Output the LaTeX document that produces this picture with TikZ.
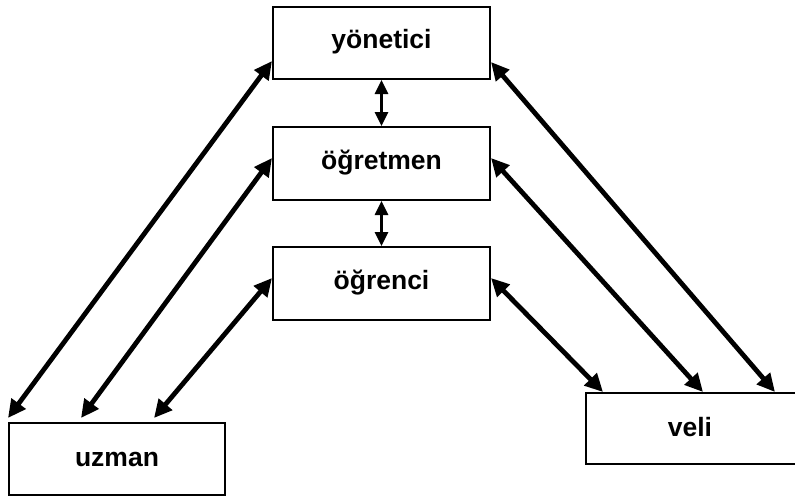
\documentclass[tikz,border=0pt]{standalone}
\usepackage{fontspec}
\setmainfont{Liberation Sans}
\usetikzlibrary{arrows.meta}
\begin{document}
\begin{tikzpicture}[x=1pt, y=-1pt,
  label font/.style={font=\fontsize{26.5}{31}\selectfont\bfseries},
  box/.style={draw, line width=2pt, rectangle, inner sep=0pt, label font},
  raised/.style={text depth=1.5ex},
  link/.style={line width=4.8pt, {Triangle[length=18pt,width=17pt]}-{Triangle[length=18pt,width=17pt]}},
  step link/.style={line width=2.6pt, {Triangle[length=14pt,width=13pt]}-{Triangle[length=14pt,width=13pt]}}]
  \useasboundingbox (0,0) rectangle (795,496);

  % central column
  \node[box, raised, minimum width=217pt, minimum height=72pt] (yon) at (381.5,43) {yönetici};
  \node[box, raised, minimum width=217pt, minimum height=73pt] (ogt) at (381.5,163.5) {öğretmen};
  \node[box, raised, minimum width=217pt, minimum height=73pt] (ogr) at (381.5,283.5) {öğrenci};

  % side partners
  \node[box, minimum width=216pt, minimum height=72pt] (uzm) at (117,459) {uzman};
  \node[box, minimum width=230pt, minimum height=71pt, anchor=north west] (vel) at (585,392) {};
  \node[label font] (veltxt) at (690,427.5) {veli};

  % anchor points along the boxes
  \coordinate (u1) at ([yshift=4pt]uzm.north west);
  \coordinate (u2) at ([xshift=73pt,yshift=4pt]uzm.north west);
  \coordinate (u3) at ([xshift=146pt,yshift=4pt]uzm.north west);
  \coordinate (v1) at ([xshift=18pt]vel.north west);
  \coordinate (v2) at ([xshift=118pt]vel.north west);
  \coordinate (v3) at ([xshift=190pt]vel.north west);

  % vertical chain
  \draw[step link] (yon.south) -- (ogt.north);
  \draw[step link] (ogt.south) -- (ogr.north);

  % links to uzman
  \draw[link] (u1) -- ([yshift=-18pt]yon.west);
  \draw[link] (u2) -- ([yshift=5.5pt]ogt.west);
  \draw[link] (u3) -- ([yshift=5.5pt]ogr.west);

  % links to veli
  \draw[link] ([yshift=-19pt]yon.east) -- (v3);
  \draw[link] ([yshift=5.5pt]ogt.east) -- (v2);
  \draw[link] ([yshift=5.5pt]ogr.east) -- (v1);
\end{tikzpicture}
\end{document}
